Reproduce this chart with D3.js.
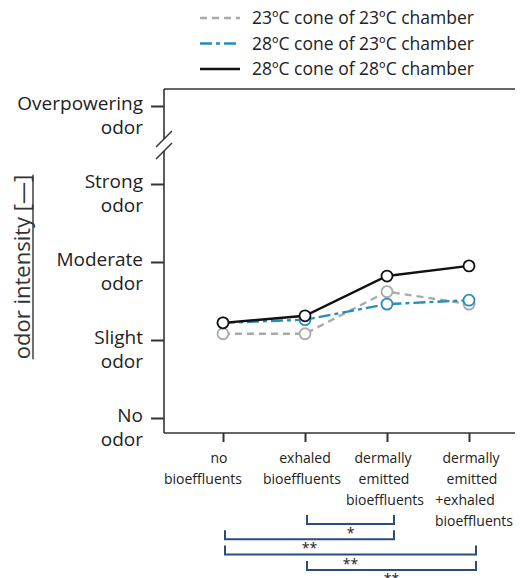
<!DOCTYPE html>
<html>
<head>
<meta charset="utf-8">
<script src="https://cdn.jsdelivr.net/npm/d3@7"></script>
<style>
  body { margin: 0; background: #fff; }
  svg { font-family: "Open Sans", sans-serif; }
</style>
</head>
<body>
<div id="chart"></div>
<script>
// categories on the x axis (multi-line labels)
const categories = ["no", "exhaled", "dermal", "both"];
const categoryLabels = [
  ["no", "bioeffluents"],
  ["exhaled", "bioeffluents"],
  ["dermally", "emitted", "bioeffluents"],
  ["dermally", "emitted", "+exhaled", "bioeffluents"]
];

// odor intensity scale levels
const levelValues = [0, 1, 2, 3, 4];
const levelLabels = [
  ["No", "odor"],
  ["Slight", "odor"],
  ["Moderate", "odor"],
  ["Strong", "odor"],
  ["Overpowering", "odor"]
];

// mean odor intensity per series
const cone23chamber23 = [1.08, 1.08, 1.62, 1.46];
const cone28chamber23 = [1.22, 1.26, 1.46, 1.51];
const cone28chamber28 = [1.22, 1.31, 1.82, 1.95];

const seriesNames = ["23ºC cone of 23ºC chamber", "28ºC cone of 23ºC chamber", "28ºC cone of 28ºC chamber"];

// significance brackets (category index pairs)
const sigPairs = [[1, 2], [0, 2], [0, 3], [1, 3]];
const sigLabels = ["*", "**", "**", "**"];

const width = 520;
const height = 578;

const svg = d3.select("#chart")
  .append("svg")
  .attr("width", width)
  .attr("height", height);

const x = d3.scalePoint()
  .domain(categories)
  .range([223, 469]);

const y = d3.scaleLinear()
  .domain([0, 4])
  .range([418, 106]);

const axisX = 164, topY = 89, bottomY = 433, rightX = 515;
const axisColor = "#333";

// frame: top line and bottom line
svg.append("line")
  .attr("x1", axisX).attr("x2", rightX)
  .attr("y1", topY).attr("y2", topY)
  .attr("stroke", axisColor).attr("stroke-width", 1.6);

svg.append("line")
  .attr("x1", axisX).attr("x2", rightX)
  .attr("y1", bottomY).attr("y2", bottomY)
  .attr("stroke", axisColor).attr("stroke-width", 1.6);

// y axis line with a break
svg.append("line")
  .attr("x1", axisX).attr("x2", axisX)
  .attr("y1", topY).attr("y2", 139)
  .attr("stroke", axisColor).attr("stroke-width", 1.6);
svg.append("line")
  .attr("x1", axisX).attr("x2", axisX)
  .attr("y1", 151).attr("y2", bottomY)
  .attr("stroke", axisColor).attr("stroke-width", 1.6);
[139, 151].forEach(cy => {
  svg.append("line")
    .attr("x1", axisX - 8).attr("y1", cy + 8)
    .attr("x2", axisX + 8).attr("y2", cy - 8)
    .attr("stroke", axisColor).attr("stroke-width", 1.4);
});

// y ticks and labels
const yAxis = d3.axisLeft(y)
  .tickValues(levelValues)
  .tickSize(13)
  .tickFormat("");

const gy = svg.append("g")
  .attr("transform", `translate(${axisX},0)`)
  .call(yAxis);
gy.select(".domain").remove();
gy.selectAll(".tick line").attr("stroke", axisColor).attr("stroke-width", 2);

levelValues.forEach((v, i) => {
  const t = svg.append("text")
    .attr("text-anchor", "end")
    .attr("font-size", 19)
    .attr("fill", "#222");
  levelLabels[i].forEach((line, j) => {
    t.append("tspan")
      .attr("x", 143)
      .attr("y", y(v) + 4 + j * 24)
      .text(line);
  });
});

// x ticks and labels
const xAxis = d3.axisBottom(x)
  .tickSize(9)
  .tickFormat("");
const gx = svg.append("g")
  .attr("transform", `translate(0,${bottomY})`)
  .call(xAxis);
gx.select(".domain").remove();
gx.selectAll(".tick line").attr("stroke", axisColor).attr("stroke-width", 2);

// first label is nudged left so it does not run into the second
const labelShift = [[-4, -20], [0, -3], [-4, -3, -2], [2, 3, -4, 5]];
categories.forEach((c, i) => {
  const t = svg.append("text")
    .attr("text-anchor", "middle")
    .attr("font-size", 14)
    .attr("fill", "#222");
  categoryLabels[i].forEach((line, j) => {
    t.append("tspan")
      .attr("x", x(c) + labelShift[i][j])
      .attr("y", 463 + j * 21)
      .text(line);
  });
});

// y axis title (underlined)
const title = svg.append("text")
  .attr("transform", "translate(30,267) rotate(-90)")
  .attr("text-anchor", "middle")
  .attr("font-size", 22)
  .attr("fill", "#333")
  .text("odor intensity [—]");
const tl = title.node().getComputedTextLength();
svg.append("line")
  .attr("x1", 33).attr("x2", 33)
  .attr("y1", 267 - tl / 2).attr("y2", 267 + tl / 2)
  .attr("stroke", "#333").attr("stroke-width", 1.4);

// series
const series = [
  { name: seriesNames[0], values: cone23chamber23, color: "#aaaaaa", dash: "7,5" },
  { name: seriesNames[1], values: cone28chamber23, color: "#2a8db8", dash: "12,4,4,4" },
  { name: seriesNames[2], values: cone28chamber28, color: "#111111", dash: null }
];

const line = d3.line()
  .x((d, i) => x(categories[i]))
  .y(d => y(d));

series.forEach(s => {
  svg.append("path")
    .datum(s.values)
    .attr("d", line)
    .attr("fill", "none")
    .attr("stroke", s.color)
    .attr("stroke-width", 2.4)
    .attr("stroke-dasharray", s.dash);
  svg.selectAll(null)
    .data(s.values)
    .enter()
    .append("circle")
    .attr("cx", (d, i) => x(categories[i]))
    .attr("cy", d => y(d))
    .attr("r", 5.5)
    .attr("fill", "#fff")
    .attr("stroke", s.color)
    .attr("stroke-width", 1.8);
});

// legend
series.forEach((s, i) => {
  const ly = 18 + i * 25.5;
  svg.append("line")
    .attr("x1", 200).attr("x2", 240)
    .attr("y1", ly).attr("y2", ly)
    .attr("stroke", s.color)
    .attr("stroke-width", 2.4)
    .attr("stroke-dasharray", s.dash);
  svg.append("text")
    .attr("x", 252)
    .attr("y", ly + 6)
    .attr("font-size", 17.5)
    .attr("fill", "#222")
    .text(s.name);
});

// significance brackets
const sigColor = "#2b4c7e";
sigPairs.forEach((p, i) => {
  const by = 524 + i * 15.3;
  const x1 = x(categories[p[0]]) + 2;
  const x2 = x(categories[p[1]]) + 7;
  svg.append("path")
    .attr("d", `M${x1},${by - 9}V${by}H${x2}V${by - 9}`)
    .attr("fill", "none")
    .attr("stroke", sigColor)
    .attr("stroke-width", 2);
  svg.append("text")
    .attr("x", (x1 + x2) / 2)
    .attr("y", by + 14)
    .attr("text-anchor", "middle")
    .attr("font-size", 14)
    .attr("fill", "#222")
    .text(sigLabels[i]);
});
</script>
</body>
</html>
